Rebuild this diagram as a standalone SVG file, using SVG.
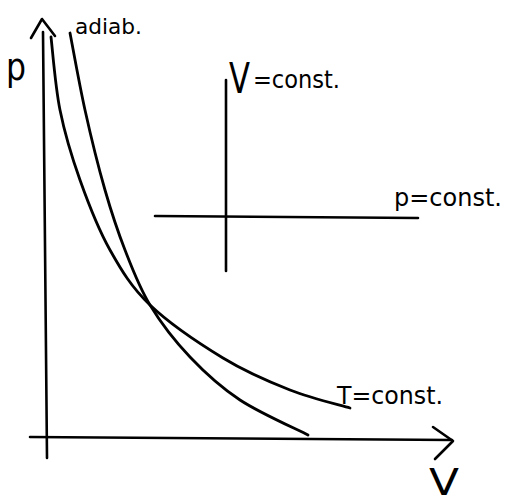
<svg xmlns="http://www.w3.org/2000/svg" width="506" height="503" viewBox="0 0 506 503">
<style>
.ln{fill:none;stroke:#000;stroke-width:2.6;stroke-linecap:round;stroke-linejoin:round}
.cv{fill:none;stroke:#000;stroke-width:2.8;stroke-linecap:round}
.t{font-family:"DejaVu Sans","Liberation Sans",sans-serif;fill:#000}
</style>
<rect width="506" height="503" fill="#fff"/>
<g id="axes">
<path class="ln" d="M43,32 L47,458"/>
<path class="ln" d="M31,38 L42,19 L55,36"/>
<path class="ln" d="M30,437 L452,440"/>
<path class="ln" d="M433,427 L453,441 L435,459"/>
<text class="t" x="6" y="80" font-size="38" textLength="20" lengthAdjust="spacingAndGlyphs">p</text>
<text class="t" x="429" y="495" font-size="38" textLength="30" lengthAdjust="spacingAndGlyphs">V</text>
</g>
<g id="isochore">
<path class="ln" d="M226,80 L226,271"/>
<text class="t" x="229" y="93" font-size="42" textLength="21" lengthAdjust="spacingAndGlyphs">V</text>
<text class="t" x="253" y="88" font-size="24" textLength="87" lengthAdjust="spacingAndGlyphs">=const.</text>
</g>
<g id="isobar">
<path class="ln" d="M155,216 L418,218"/>
<text class="t" x="394" y="206" font-size="24" textLength="108" lengthAdjust="spacingAndGlyphs">p=const.</text>
</g>
<g id="isotherm">
<path class="cv" d="M51,37 C52.5,49.2 55.2,86.2 60,110 C64.8,133.8 71.7,156.7 80,180 C88.3,203.3 98.3,229.2 110,250 C121.7,270.8 131.2,287 150,305 C168.8,323 199.7,343.8 223,358 C246.3,372.2 268.8,381.7 290,390 C311.2,398.3 340,405 350,408"/>
<text class="t" x="337" y="404" font-size="24" textLength="106" lengthAdjust="spacingAndGlyphs">T=const.</text>
</g>
<g id="adiabat">
<path class="cv" d="M70,33 C72.5,45.8 79.2,83.8 85,110 C90.8,136.2 98.3,166.7 105,190 C111.7,213.3 117.5,230.8 125,250 C132.5,269.2 139.2,287.2 150,305 C160.8,322.8 175,341.2 190,357 C205,372.8 220.3,387 240,400 C259.7,413 296.7,429.2 308,435"/>
<text class="t" x="75" y="34" font-size="22" textLength="67" lengthAdjust="spacingAndGlyphs">adiab.</text>
</g>
</svg>
